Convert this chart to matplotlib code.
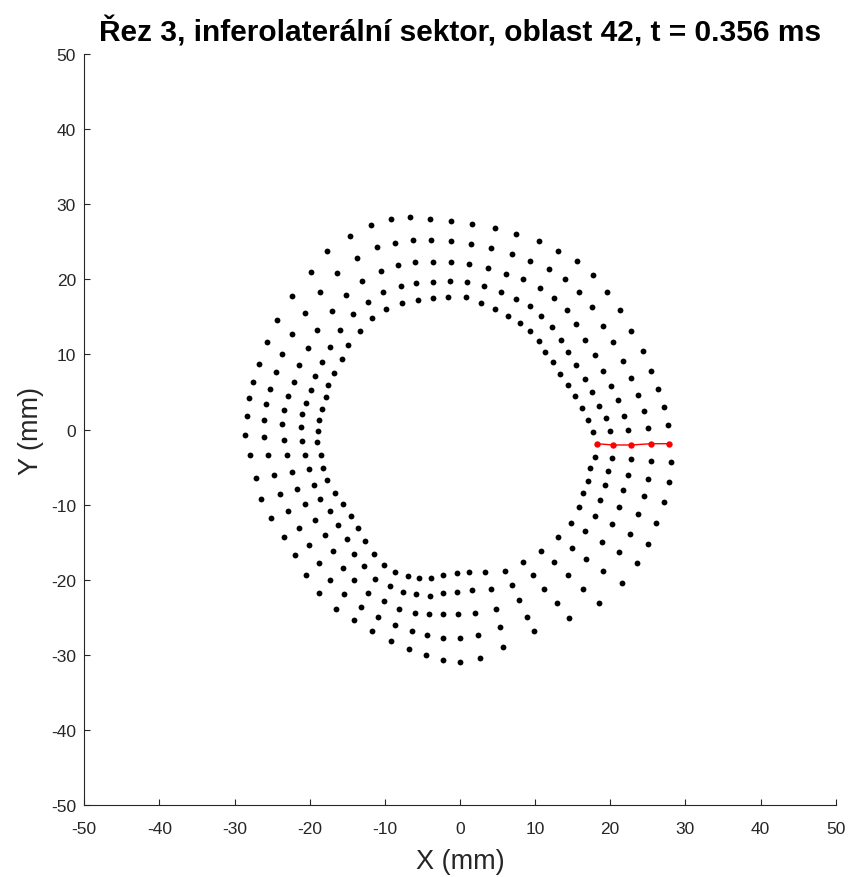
import matplotlib
matplotlib.use('Agg')
import matplotlib.pyplot as plt

plt.rcParams['font.family'] = ['Liberation Sans', 'DejaVu Sans']
plt.rcParams['axes.unicode_minus'] = False

# black points, one list per ring (outer ring 1 ... inner ring 5), counterclockwise from the right
ring1_x = [27.64, 27.11, 26.35, 25.42, 24.31, 22.80, 21.25, 19.60, 17.74, 15.53, 13.08, 10.47, 7.45, 4.66, 1.64,
           -1.16, -3.95, -6.61, -9.22, -11.80, -14.60, -17.66, -19.87, -22.32, -24.35, -25.64, -26.79, -27.55, -28.08, -28.31,
           -28.65, -27.95, -27.19, -26.44, -25.11, -23.46, -21.92, -20.45, -18.76, -16.54, -14.07, -11.67, -9.22, -6.79, -4.48, -2.26,
           0.00, 2.62, 5.76, 9.89, 14.55, 18.50, 21.52, 23.55, 25.02, 26.12, 27.11, 27.85, 28.08]
ring1_y = [0.56, 3.00, 5.40, 7.83, 10.46, 13.08, 15.88, 18.32, 20.58, 22.49, 23.78, 25.07, 26.00, 26.80, 27.33,
           27.73, 28.08, 28.27, 28.08, 27.28, 25.82, 23.78, 20.94, 17.82, 14.59, 11.62, 8.77, 6.33, 4.16, 1.76,
           -0.73, -3.40, -6.42, -9.22, -11.83, -14.28, -16.72, -19.34, -21.78, -23.87, -25.34, -26.84, -28.17, -29.28, -30.04, -30.74,
           -30.97, -30.40, -28.93, -26.84, -25.15, -23.11, -20.49, -17.82, -15.25, -12.42, -9.62, -6.99, -4.37]

ring2_x = [25.02, 24.49, 23.69, 22.80, 21.69, 20.40, 19.07, 17.53, 15.88, 14.01, 11.80, 9.36, 6.92, 4.09, 1.46,
           -1.16, -3.82, -6.25, -8.69, -11.09, -13.71, -16.37, -18.59, -20.63, -22.32, -23.65, -24.53, -25.29, -25.86, -26.08,
           -26.08, -25.51, -24.75, -23.99, -22.89, -21.39, -20.10, -18.80, -17.26, -15.40, -13.13, -10.91, -8.69, -6.39, -4.35, -2.26,
           0.00, 2.40, 5.36, 8.92, 12.87, 16.41, 19.07, 21.12, 22.58, 23.73, 24.49, 25.02, 25.46]
ring2_y = [0.16, 2.42, 4.64, 6.90, 9.16, 11.66, 13.83, 16.28, 18.32, 20.01, 21.34, 22.45, 23.38, 24.14, 24.71,
           25.07, 25.28, 25.28, 24.88, 24.35, 22.89, 20.81, 18.32, 15.56, 12.72, 10.10, 7.70, 5.44, 3.36, 1.27,
           -0.96, -3.40, -6.02, -8.63, -10.86, -13.16, -15.39, -17.82, -20.09, -21.95, -23.64, -24.98, -26.08, -26.84, -27.41, -27.77,
           -27.77, -27.41, -26.31, -24.98, -23.07, -21.25, -18.81, -16.36, -13.92, -11.30, -8.86, -6.59, -4.20]

ring3_x = [22.40, 21.86, 21.07, 20.14, 19.07, 17.97, 16.64, 15.48, 14.20, 12.51, 10.65, 8.38, 6.12, 3.69, 1.24,
           -1.16, -3.59, -6.03, -8.25, -10.51, -13.00, -15.21, -17.03, -18.99, -20.27, -21.39, -22.09, -22.89, -23.46, -23.65,
           -23.46, -23.06, -22.32, -21.73, -20.63, -19.30, -18.01, -16.86, -15.57, -14.07, -12.20, -10.15, -8.08, -5.99, -4.17, -2.26,
           -0.23, 2.04, 4.83, 7.81, 11.18, 14.41, 16.81, 18.86, 20.19, 21.12, 21.69, 22.40, 22.80]
ring3_y = [-0.07, 1.84, 3.89, 5.75, 7.83, 9.92, 11.96, 14.01, 15.88, 17.56, 18.89, 20.01, 20.75, 21.55, 22.09,
           22.27, 22.27, 22.27, 21.91, 21.11, 19.82, 17.96, 15.75, 13.29, 10.86, 8.59, 6.37, 4.46, 2.60, 0.73,
           -1.36, -3.40, -5.66, -7.93, -9.96, -12.02, -14.09, -16.15, -18.41, -20.09, -21.78, -22.89, -23.87, -24.40, -24.58, -24.58,
           -24.58, -24.40, -23.87, -22.71, -21.25, -19.34, -17.29, -15.03, -12.59, -10.36, -8.10, -6.06, -3.97]

ring4_x = [20.00, 19.43, 18.50, 17.57, 16.64, 15.48, 14.41, 13.44, 12.28, 10.82, 9.36, 7.45, 5.42, 3.19, 0.93,
           -1.37, -3.59, -5.82, -7.89, -10.21, -12.20, -14.28, -15.93, -17.26, -18.40, -19.30, -19.87, -20.45, -20.99, -21.20,
           -20.99, -20.63, -20.10, -19.47, -18.59, -17.26, -16.20, -15.04, -14.07, -12.78, -11.31, -9.36, -7.55, -5.82, -3.95, -2.26,
           -0.36, 1.64, 4.09, 6.92, 9.71, 12.51, 14.90, 16.59, 17.93, 18.67, 19.26, 19.66, 20.19]
ring4_y = [-0.20, 1.49, 3.13, 5.00, 6.73, 8.59, 10.28, 11.96, 13.61, 15.12, 16.49, 17.38, 18.32, 19.12, 19.65,
           19.82, 19.69, 19.51, 19.12, 18.36, 17.02, 15.35, 13.29, 11.03, 8.99, 7.09, 5.26, 3.53, 2.06, 0.37,
           -1.53, -3.40, -5.26, -7.35, -9.22, -10.86, -12.76, -14.63, -16.54, -18.22, -19.91, -20.85, -21.61, -21.95, -22.14, -21.78,
           -21.61, -21.42, -21.25, -20.67, -19.34, -17.65, -15.79, -13.52, -11.48, -9.39, -7.35, -5.49, -3.80]

ring5_x = [17.74, 16.99, 16.24, 15.30, 14.41, 13.27, 12.34, 11.35, 10.47, 9.36, 8.02, 6.35, 4.66, 2.75, 0.76,
           -1.60, -3.63, -5.63, -7.72, -9.81, -11.67, -13.31, -14.86, -15.74, -16.73, -17.53, -17.83, -18.37, -18.76, -18.94,
           -18.99, -18.54, -18.19, -17.66, -16.67, -15.57, -14.47, -13.53, -12.60, -11.44, -10.15, -8.69, -6.96, -5.50, -3.82, -2.26,
           -0.44, 1.24, 3.33, 5.99, 8.42, 10.82, 13.08, 14.73, 15.88, 16.41, 16.99, 17.34, 17.93]
ring5_y = [-0.33, 1.27, 2.82, 4.46, 5.97, 7.43, 8.95, 10.28, 11.79, 13.08, 14.23, 15.12, 16.05, 16.85, 17.61,
           17.61, 17.52, 17.25, 16.85, 16.09, 14.81, 13.08, 11.22, 9.35, 7.49, 5.93, 4.29, 2.77, 1.27, -0.20,
           -1.71, -3.40, -5.09, -6.77, -8.46, -9.96, -11.48, -13.16, -14.85, -16.54, -18.05, -18.98, -19.52, -19.74, -19.74, -19.34,
           -19.16, -18.98, -18.98, -18.81, -17.69, -16.19, -14.28, -12.42, -10.36, -8.46, -6.82, -5.13, -3.62]

# highlighted segment (region 42), inner -> outer
seg_x = [18.19, 20.40, 22.80, 25.46, 27.85]
seg_y = [-1.89, -2.06, -2.06, -1.89, -1.89]

ticks = [-50, -40, -30, -20, -10, 0, 10, 20, 30, 40, 50]
title = 'Řez 3, inferolaterální sektor, oblast 42, t = 0.356 ms'

fig = plt.figure(figsize=(8.52, 8.78), dpi=100)
ax = fig.add_axes([0.0989, 0.0823, 0.8819, 0.8547])

for rx, ry in [(ring1_x, ring1_y), (ring2_x, ring2_y), (ring3_x, ring3_y),
               (ring4_x, ring4_y), (ring5_x, ring5_y)]:
    ax.plot(rx, ry, 'o', color='k', markersize=4.2, markeredgewidth=0)

ax.plot(seg_x, seg_y, '-o', color='#ff0000', linewidth=1.0, markersize=4.6, markeredgewidth=0)

ax.set_xlim(-50, 50)
ax.set_ylim(-50, 50)
ax.set_xticks(ticks)
ax.set_yticks(ticks)
ax.tick_params(direction='in', length=4, width=0.8, colors='#262626', labelsize=12.5)
ax.tick_params(axis='x', pad=12)
ax.tick_params(axis='y', pad=6)
for side in ['top', 'right']:
    ax.spines[side].set_visible(False)
for side in ['left', 'bottom']:
    ax.spines[side].set_color('#262626')
    ax.spines[side].set_linewidth(0.8)

ax.set_xlabel('X (mm)', fontsize=19.5, color='#262626', labelpad=8)
ax.set_ylabel('Y (mm)', fontsize=19.5, color='#262626', labelpad=5)
ax.set_title(title, fontsize=21.5, fontweight='bold', color='k', pad=10)

fig.savefig('out.png', dpi=100)
